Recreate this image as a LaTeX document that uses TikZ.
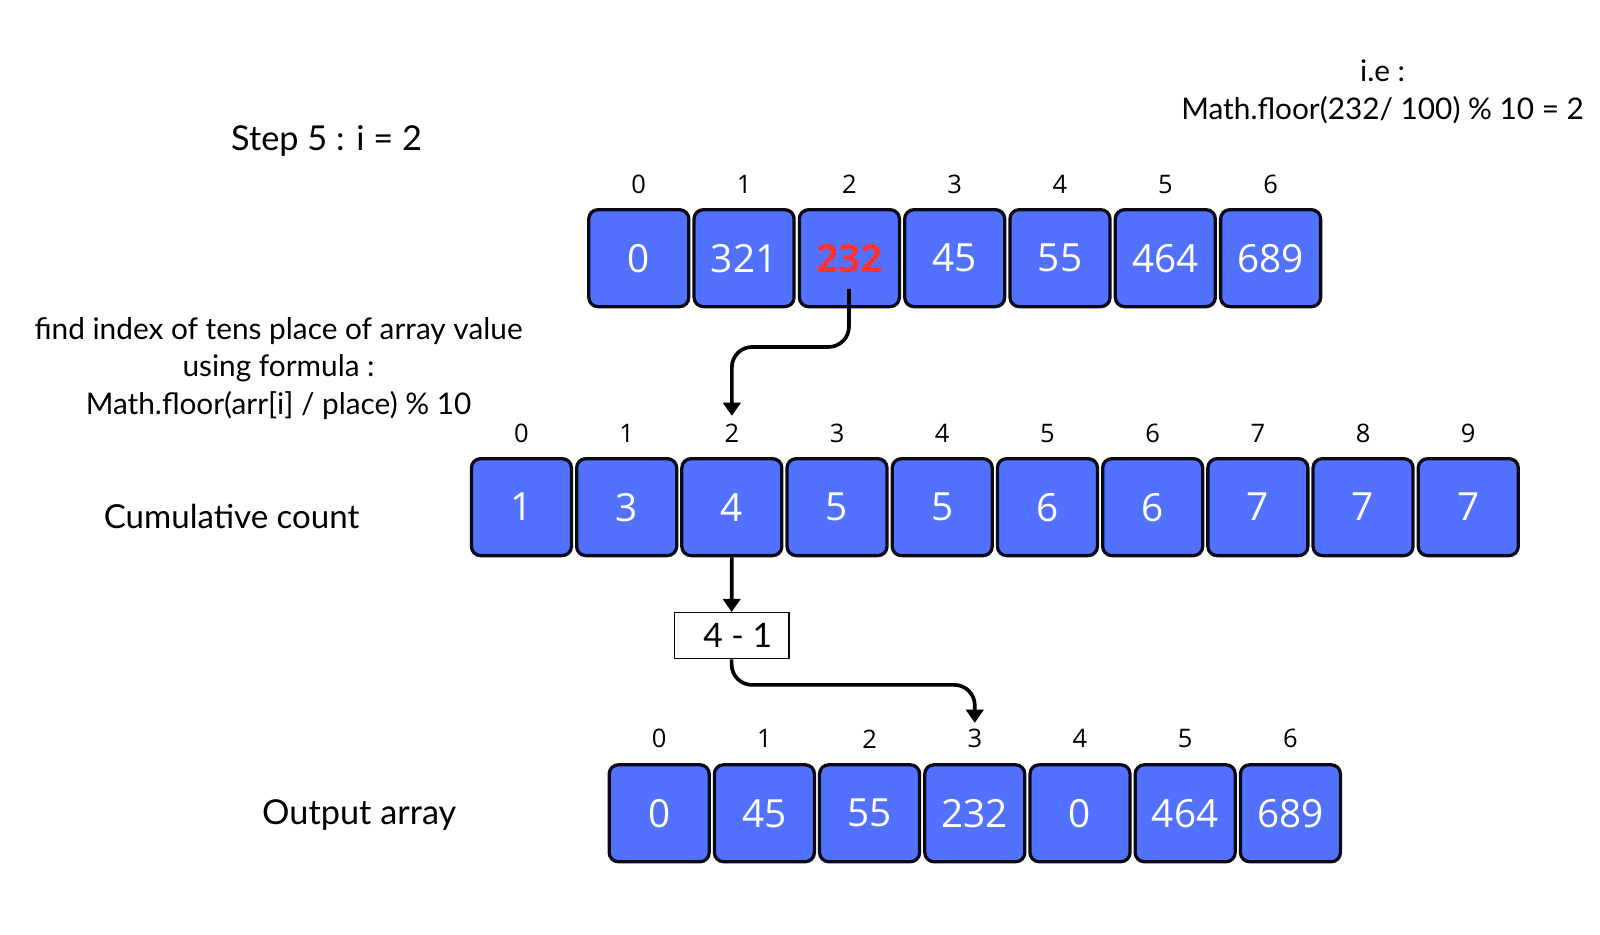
\documentclass[tikz,border=0pt]{standalone}
\usepackage{fontspec}
\setmainfont{Lato}
\newfontfamily\numfont{Open Sans}
\usetikzlibrary{arrows.meta,calc}
\definecolor{cellblue}{RGB}{82,113,255}
\definecolor{cellred}{RGB}{255,49,49}
\definecolor{edge}{RGB}{10,10,20}
\tikzset{
  cell/.style={draw=edge, line width=1.6pt, fill=cellblue, rounded corners=4.5pt,
    minimum width=49pt, minimum height=47.5pt, inner sep=0pt,
    text=white, font=\numfont\fontsize{19}{19}\selectfont},
  idx/.style={font=\numfont\fontsize{12.5}{12.5}\selectfont, inner sep=0pt},
  lbl/.style={font=\fontsize{16.8}{16.8}\selectfont, inner sep=0pt},
  note/.style={font=\fontsize{14.6}{18.5}\selectfont, inner sep=0pt, align=center},
  arr/.style={line width=1.8pt, -{Triangle[width=8.5pt,length=6.5pt]}, rounded corners=10pt},
  calcbox/.style={draw=edge, line width=0.7pt, minimum width=56pt, minimum height=22.5pt,
    inner sep=0pt, font=\fontsize{16.5}{16.5}\selectfont}
}
\begin{document}
\begin{tikzpicture}[x=0.5pt,y=-0.5pt]
\useasboundingbox[fill=white] (0,0) rectangle (1568,915.5);
% titles
\node[lbl] (step) at (320,138) {Step 5 : i = 2};
\node[note] (ie) at (1355,90) {i.e :\\Math.floor(232/ 100) \% 10 = 2};
\node[note] (find) at (273,361) {find index of tens place of array value\\using formula :\\Math.floor(arr[i] / place) \% 10};
\node[lbl, font=\fontsize{16.2}{16.2}\selectfont] (cumlbl) at (227,506) {Cumulative count};
\node[lbl] (outlbl) at (352,799) {Output array};
% top array
\foreach \v [count=\i from 0] in {0,321,232,45,55,464,689} {
  \node[idx] (ti\i) at (626+103.2*\i,181) {\i};
}
\foreach \v [count=\i from 0] in {0,321,{\textcolor{cellred}{\textbf{232}}},45,55,464,689} {
  \node[cell] (t\i) at (626+103.2*\i,253) {\v};
}
% cumulative array
\foreach \v [count=\i from 0] in {1,3,4,5,5,6,6,7,7,7} {
  \node[idx] (ci\i) at (511+103.1*\i,425) {\i};
  \node[cell] (c\i) at (511+103.1*\i,497) {\v};
}
% output array
\foreach \v [count=\i from 0] in {0,45,55,232,0,464,689} {
  \node[idx] (oi\i) at (646+103.1*\i,724) {\i};
  \node[cell] (o\i) at (646+103.1*\i,797) {\v};
}
% calc box
\node[calcbox] (calc) at (717,623) {\hspace*{6pt}4 - 1};
% connectors
\coordinate (a1) at (832,283);
\draw[arr] (a1) -- ++(0,57) -| ($(ci2.north)+(0,-8)$);
\draw[arr] (c2.south) -- (calc.north);
\draw[arr] (calc.south) -- ++(0,25) -| ($(oi3.north)+(0,-6)$);
\end{tikzpicture}
\end{document}
